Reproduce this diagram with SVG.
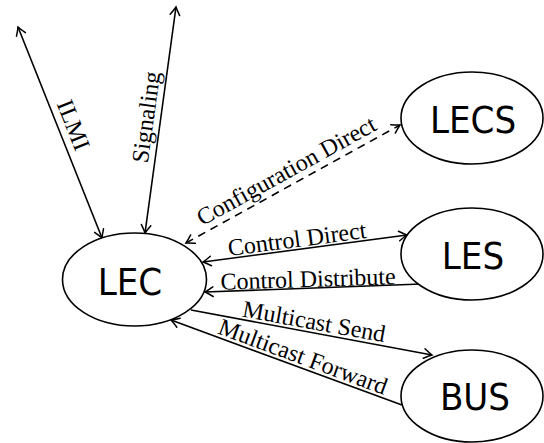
<svg xmlns="http://www.w3.org/2000/svg" width="544" height="443" viewBox="0 0 544 443">
  <style>
    .node ellipse { fill: #fff; stroke: #000; stroke-width: 1.6; }
    .node text { font-family: "DejaVu Sans", sans-serif; font-stretch: condensed; font-size: 38px; text-anchor: middle; fill: #000; }
    .edge { fill: none; stroke: #000; stroke-width: 1.6; }
    .dashed { stroke-dasharray: 8 6; }
    .lbl { font-family: "Liberation Serif", "Times New Roman", serif; font-size: 24px; text-anchor: middle; fill: #000; }
  </style>
  <defs>
    <marker id="arrow" markerUnits="userSpaceOnUse" markerWidth="14" markerHeight="14" viewBox="-10 -7 12 14" refX="0" refY="0" orient="auto-start-reverse">
      <path d="M -8 -4.8 Q -3 -1.5 0 0 Q -3 1.5 -8 4.8" fill="none" stroke="#000" stroke-width="1.5" stroke-linecap="round"/>
    </marker>
  </defs>
  <rect width="544" height="443" fill="#fff"/>

  <g id="connectors">
    <!-- ILMI -->
    <line class="edge" x1="18" y1="27" x2="102" y2="238" marker-start="url(#arrow)" marker-end="url(#arrow)"/>
    <!-- Signaling -->
    <line class="edge" x1="176" y1="7" x2="145" y2="233" marker-start="url(#arrow)" marker-end="url(#arrow)"/>
    <!-- Configuration Direct -->
    <line class="edge dashed" x1="186" y1="243" x2="400" y2="125" marker-start="url(#arrow)" marker-end="url(#arrow)"/>
    <!-- Control Direct -->
    <line class="edge" x1="203" y1="262" x2="407" y2="235" marker-start="url(#arrow)" marker-end="url(#arrow)"/>
    <!-- Control Distribute -->
    <line class="edge" x1="421" y1="284" x2="205" y2="292" marker-end="url(#arrow)"/>
    <!-- Multicast Send -->
    <line class="edge" x1="191" y1="310" x2="432" y2="355" marker-end="url(#arrow)"/>
    <!-- Multicast Forward -->
    <line class="edge" x1="402" y1="405" x2="171" y2="320" marker-end="url(#arrow)"/>

    <text class="lbl" transform="translate(73.5,125) rotate(68.3)" dy="8">ILMI</text>
    <text class="lbl" transform="translate(148.5,117.5) rotate(-82.2)" dy="5.5">Signaling</text>
    <text class="lbl" transform="translate(287.5,173) rotate(-28.9)" dy="5.5">Configuration Direct</text>
    <text class="lbl" transform="translate(297,239) rotate(-7.5)" dy="8">Control Direct</text>
    <text class="lbl" transform="translate(308,279) rotate(-1.8)" dy="8">Control Distribute</text>
    <text class="lbl" transform="translate(314,321.5) rotate(10.2)" dy="8">Multicast Send</text>
    <text class="lbl" transform="translate(303,356.5) rotate(20.3)" dy="8">Multicast Forward</text>
  </g>

  <g id="LEC" class="node">
    <ellipse cx="134.5" cy="279.5" rx="72" ry="46.5"/>
    <text x="130" y="295">LEC</text>
  </g>
  <g id="LECS" class="node">
    <ellipse cx="472" cy="118" rx="71" ry="46"/>
    <text x="473" y="132.5">LECS</text>
  </g>
  <g id="LES" class="node">
    <ellipse cx="472" cy="254" rx="71" ry="46"/>
    <text x="473" y="268.5">LES</text>
  </g>
  <g id="BUS" class="node">
    <ellipse cx="472" cy="396" rx="71" ry="46"/>
    <text x="475" y="410">BUS</text>
  </g>
</svg>
